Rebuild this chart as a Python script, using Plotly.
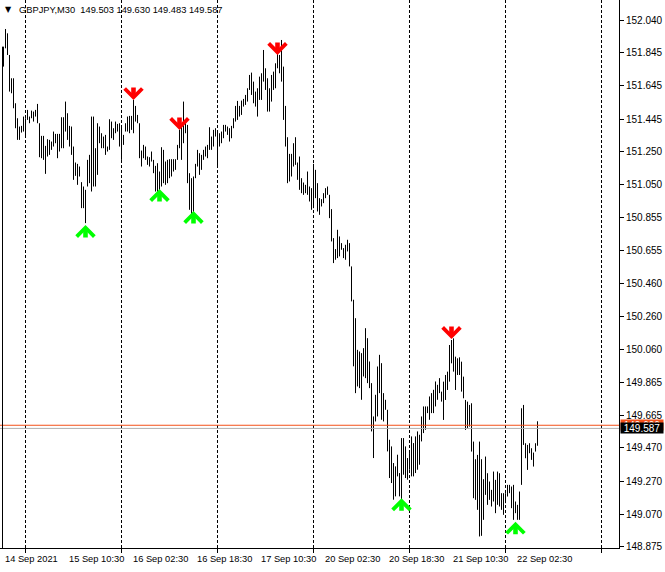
import plotly.graph_objects as go

# ---------------- data ----------------
symbol_header = "GBPJPY,M30"
last_ohlc = [149.503, 149.630, 149.483, 149.587]
ask_price = 149.606
bid_price = 149.587

bar_high = [
    151.880, 151.986, 151.960, 151.830, 151.690, 151.690, 151.540, 151.450, 151.400, 151.404,
    151.460, 151.450, 151.500, 151.460, 151.496, 151.490, 151.500, 151.536, 151.420, 151.344,
    151.344, 151.284, 151.324, 151.320, 151.310, 151.370, 151.356, 151.356, 151.356, 151.456,
    151.456, 151.550, 151.480, 151.404, 151.400, 151.280, 151.184, 151.176, 151.160, 151.066,
    151.040, 151.020, 151.200, 151.230, 151.460, 151.460, 151.270, 151.420, 151.400, 151.360,
    151.340, 151.350, 151.280, 151.444, 151.430, 151.390, 151.430, 151.416, 151.420, 151.404,
    151.350, 151.420, 151.460, 151.464, 151.464, 151.560, 151.524, 151.470, 151.420, 151.256,
    151.290, 151.280, 151.220, 151.216, 151.250, 151.200, 151.164, 151.180, 151.130, 151.276,
    151.260, 151.190, 151.200, 151.204, 151.204, 151.204, 151.204, 151.290, 151.380, 151.420,
    151.550, 151.430, 151.410, 151.120, 151.090, 151.100, 151.176, 151.260, 151.240, 151.230,
    151.260, 151.280, 151.290, 151.396, 151.340, 151.380, 151.390, 151.370, 151.360, 151.370,
    151.410, 151.410, 151.400, 151.390, 151.404, 151.450, 151.524, 151.554, 151.524, 151.556,
    151.566, 151.590, 151.630, 151.710, 151.724, 151.670, 151.610, 151.630, 151.700, 151.720,
    151.860, 151.750, 151.690, 151.630, 151.710, 151.730, 151.780, 151.840, 151.830, 151.920,
    151.760, 151.524, 151.336, 151.236, 151.236, 151.300, 151.336, 151.184, 151.220, 151.090,
    151.064, 151.050, 151.130, 151.040, 151.030, 151.176, 151.140, 151.060, 150.970, 150.964,
    151.000, 151.030, 151.040, 150.990, 150.904, 150.730, 150.664, 150.780, 150.740, 150.700,
    150.670, 150.690, 150.720, 150.700, 150.560, 150.360, 150.249, 150.059, 150.049, 150.039,
    150.069, 150.189, 150.129, 149.989, 149.859, 149.659, 149.789, 149.959, 150.029, 149.979,
    149.799, 149.759, 149.699, 149.519, 149.479, 149.379, 149.359, 149.429, 149.319, 149.529,
    149.529, 149.479, 149.409, 149.439, 149.539, 149.499, 149.539, 149.569, 149.549, 149.659,
    149.719, 149.719, 149.719, 149.779, 149.799, 149.819, 149.869, 149.849, 149.889, 149.808,
    149.868, 149.908, 149.928, 150.088, 150.118, 150.128, 150.018, 150.008, 150.014, 149.988,
    149.898, 149.758, 149.748, 149.728, 149.738, 149.508, 149.402, 149.428, 149.508, 149.402,
    149.282, 149.418, 149.318, 149.268, 149.218, 149.328, 149.278, 149.328, 149.318, 149.198,
    149.198, 149.198, 149.248, 149.248, 149.238, 149.248, 149.148, 149.128, 149.208, 149.708,
    149.728, 149.498, 149.488, 149.498, 149.468, 149.442, 149.498, 149.630,
]

bar_low = [
    151.760, 151.870, 151.830, 151.610, 151.600, 151.510, 151.390, 151.320, 151.320, 151.364,
    151.370, 151.340, 151.440, 151.420, 151.450, 151.430, 151.460, 151.420, 151.216, 151.210,
    151.200, 151.116, 151.220, 151.230, 151.260, 151.280, 151.300, 151.210, 151.250, 151.270,
    151.270, 151.370, 151.320, 151.280, 151.230, 151.080, 151.104, 151.050, 151.100, 150.910,
    150.910, 150.820, 151.040, 151.060, 151.010, 151.040, 151.040, 151.110, 151.300, 151.270,
    151.270, 151.230, 151.250, 151.260, 151.330, 151.320, 151.360, 151.370, 151.280, 151.200,
    151.290, 151.370, 151.370, 151.360, 151.380, 151.360, 151.430, 151.420, 151.210, 151.160,
    151.210, 151.200, 151.170, 151.160, 151.190, 151.120, 151.010, 151.000, 150.960, 151.040,
    151.060, 151.050, 151.060, 151.090, 151.100, 151.130, 151.140, 151.200, 151.270, 151.200,
    151.300, 151.360, 151.060, 150.900, 150.860, 150.860, 151.090, 151.160, 151.110, 151.140,
    151.200, 151.220, 151.210, 151.260, 151.260, 151.280, 151.340, 151.160, 151.280, 151.300,
    151.330, 151.370, 151.350, 151.310, 151.330, 151.390, 151.430, 151.440, 151.460, 151.470,
    151.520, 151.530, 151.550, 151.620, 151.590, 151.540, 151.520, 151.460, 151.560, 151.560,
    151.670, 151.620, 151.490, 151.490, 151.550, 151.620, 151.630, 151.750, 151.720, 151.670,
    151.440, 151.280, 151.060, 151.070, 151.100, 151.160, 151.170, 151.080, 151.020, 151.000,
    150.990, 151.000, 150.990, 150.950, 150.900, 150.910, 150.970, 150.890, 150.870, 150.920,
    150.940, 150.970, 150.990, 150.850, 150.710, 150.580, 150.600, 150.610, 150.620, 150.660,
    150.610, 150.600, 150.650, 150.560, 150.350, 149.960, 149.799, 149.839, 149.829, 149.759,
    149.899, 149.889, 149.859, 149.829, 149.569, 149.409, 149.629, 149.659, 149.799, 149.639,
    149.629, 149.699, 149.449, 149.289, 149.259, 149.159, 149.179, 149.299, 149.179, 149.159,
    149.309, 149.289, 149.279, 149.339, 149.299, 149.299, 149.319, 149.339, 149.369, 149.509,
    149.559, 149.579, 149.679, 149.639, 149.679, 149.679, 149.719, 149.759, 149.799, 149.748,
    149.638, 149.758, 149.818, 149.868, 149.978, 149.928, 149.818, 149.908, 149.908, 149.808,
    149.768, 149.578, 149.588, 149.598, 149.448, 149.168, 149.158, 149.098, 148.938, 148.942,
    149.038, 149.188, 149.128, 149.158, 149.118, 149.148, 149.078, 149.128, 149.118, 149.098,
    149.068, 149.138, 149.178, 149.198, 149.108, 149.038, 149.078, 149.038, 149.038, 149.248,
    149.488, 149.408, 149.338, 149.438, 149.398, 149.358, 149.448, 149.483,
]

time_label_idx = [0, 32, 64, 96, 128, 160, 192, 224, 256]
time_labels = ["14 Sep 2021", "15 Sep 10:30", "16 Sep 02:30", "16 Sep 18:30",
               "17 Sep 10:30", "20 Sep 02:30", "20 Sep 18:30", "21 Sep 10:30",
               "22 Sep 02:30"]
grid_idx = [11, 59, 107, 155, 203, 251, 299]

price_ticks = [152.040, 151.845, 151.645, 151.445, 151.250, 151.050, 150.855, 150.655,
               150.460, 150.260, 150.060, 149.865, 149.665, 149.470, 149.270, 149.070,
               148.875]
price_tick_text = ["152.040", "151.845", "151.645", "151.445", "151.250", "151.050",
                   "150.855", "150.655", "150.460", "150.260", "150.060", "149.865",
                   "149.665", "149.470", "149.270", "149.070", "148.875"]

up_arrow_idx = [41, 78, 95, 199, 256]
up_arrow_price = [150.839, 151.055, 150.923, 149.197, 149.057]
down_arrow_idx = [65, 88, 137, 224]
down_arrow_price = [151.529, 151.349, 151.800, 150.094]

# ---------------- figure ----------------
FONT = "Liberation Sans, Arial, sans-serif"
xs, ys = [], []
for i, (h, l) in enumerate(zip(bar_high, bar_low)):
    xs += [i, i, None]
    ys += [l, h, None]

fig = go.Figure()
fig.add_trace(go.Scatter(x=xs, y=ys, mode="lines",
                         line=dict(color="black", width=1),
                         hoverinfo="skip", showlegend=False))

shapes = [
    dict(type="line", xref="paper", x0=0, x1=1, yref="y", y0=ask_price, y1=ask_price,
         line=dict(color="#F4501A", width=1)),
    dict(type="line", xref="paper", x0=0, x1=1, yref="y", y0=bid_price, y1=bid_price,
         line=dict(color="#B0B0B0", width=1)),
    dict(type="line", xref="x", x0=-0.5, x1=-0.5, yref="y", y0=148.0, y1=bar_high[0],
         line=dict(color="black", width=1)),
]

annotations = []
for idx, txt in zip(time_label_idx, time_labels):
    annotations.append(dict(x=idx, y=0, xref="x", yref="paper", text=txt,
                            showarrow=False, xanchor="left", yanchor="top",
                            xshift=-1, yshift=-4,
                            font=dict(family=FONT, size=9.3, color="black")))

ARROW = dict(xref="x", yref="y", text="", showarrow=True, ax=0, arrowhead=4,
             arrowwidth=4.6, arrowsize=0.74, standoff=0, borderpad=0,
             font=dict(size=1))
for idx, p in zip(down_arrow_idx, down_arrow_price):
    annotations.append(dict(ARROW, x=idx, y=p, ay=-13, arrowcolor="#FF0000", yshift=5))
for idx, p in zip(up_arrow_idx, up_arrow_price):
    annotations.append(dict(ARROW, x=idx, y=p, ay=13, arrowcolor="#00FF00", yshift=-5))

# header
annotations.append(dict(x=0, y=1, xref="paper", yref="paper", text="▼",
                        showarrow=False, xanchor="left", yanchor="top",
                        xshift=3, yshift=-3,
                        font=dict(family="DejaVu Sans", size=8, color="black")))
hdr = symbol_header + "\u00a0\u00a0" + " ".join(f"{v:.3f}" for v in last_ohlc)
annotations.append(dict(x=0, y=1, xref="paper", yref="paper", text=hdr,
                        showarrow=False, xanchor="left", yanchor="top",
                        xshift=17, yshift=-3,
                        font=dict(family=FONT, size=9.3, color="black")))

# price labels on the right axis
annotations.append(dict(x=1, y=ask_price, xref="paper", yref="y", text=f"{ask_price:.3f}",
                        showarrow=False, xanchor="left", yanchor="middle", xshift=1,
                        bgcolor="#F4501A", width=42, height=10, borderpad=0,
                        font=dict(family=FONT, size=10, color="white")))
annotations.append(dict(x=1, y=bid_price, xref="paper", yref="y", text=f"{bid_price:.3f}",
                        showarrow=False, xanchor="left", yanchor="middle", xshift=1,
                        bgcolor="black", width=42, height=10, borderpad=0,
                        font=dict(family=FONT, size=10, color="white")))

ymax = 152.040 + 20 * 0.006006
ymin = 152.040 - 528 * 0.006006

fig.update_layout(
    width=665, height=572,
    margin=dict(l=0, r=46, t=0, b=24),
    paper_bgcolor="white", plot_bgcolor="white",
    showlegend=False,
    shapes=shapes, annotations=annotations,
    xaxis=dict(range=[-1.75, -1.75 + 619 / 2], tickvals=grid_idx, showticklabels=False,
               showgrid=True, gridcolor="black", gridwidth=1, griddash="3px,2px",
               ticks="outside", ticklen=4, tickcolor="black",
               showline=True, linecolor="black", linewidth=1, zeroline=False,
               fixedrange=True),
    yaxis=dict(range=[ymin, ymax], side="right", tickvals=price_ticks,
               ticktext=price_tick_text, showgrid=False, zeroline=False,
               ticks="outside", ticklen=4, tickcolor="black",
               showline=True, linecolor="black", linewidth=1,
               tickfont=dict(family=FONT, size=10, color="black"),
               fixedrange=True),
)

fig.write_html("out.html", config={"displayModeBar": False},
               post_script="document.body.style.margin='0px';document.body.style.overflow='hidden';")
